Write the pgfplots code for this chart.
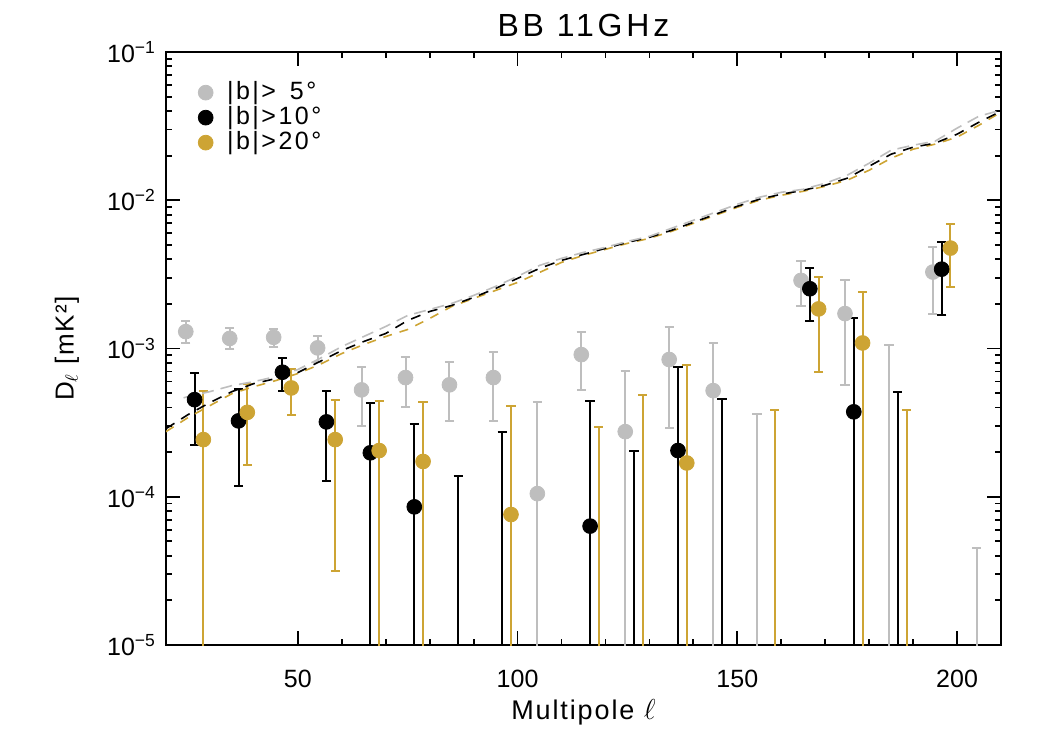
\documentclass[border=0pt]{standalone}
\usepackage{fontspec}
\setmainfont{Liberation Sans}
\usepackage{pgfplots}
\pgfplotsset{compat=1.18}
\definecolor{grey}{RGB}{190,190,190}
\definecolor{gold}{RGB}{205,164,52}
\begin{document}
\begin{tikzpicture}
\useasboundingbox (0,0) rectangle (525pt,375pt);
\begin{axis}[
  at={(83pt,52.5pt)}, anchor=south west,
  scale only axis, width=417.5pt, height=296.5pt,
  xmin=20, xmax=210, ymin=1e-5, ymax=1e-1, ymode=log,
  xtick={50,100,150,200}, minor x tick num=4,
  ytick={1e-5,1e-4,1e-3,1e-2,1e-1},
  yticklabels={10\textsuperscript{−5},10\textsuperscript{−4},10\textsuperscript{−3},10\textsuperscript{−2},10\textsuperscript{−1}},
  /pgf/number format/assume math mode=true,
  tick align=inside, major tick length=6.8pt, minor tick length=3.2pt,
  axis line style={line width=1pt},
  every tick/.style={black, line width=0.9pt},
  ticklabel style={font=\fontsize{12.5}{14}\selectfont},
  xticklabel style={yshift=-9pt},
  yticklabel style={xshift=-1.5pt},
  title={BB 11GHz},
  every axis title/.style={at={(0.5,1)}, anchor=base, yshift=8pt, font=\fontsize{16}{18}\selectfont\addfontfeature{LetterSpace=12}},
  xlabel={Multipole $\ell$},
  every axis x label/.style={at={(0.5,0)}, anchor=center, yshift=-33.5pt, font=\fontsize{13.5}{15}\selectfont\addfontfeature{LetterSpace=7}},
  ylabel={D$_\ell$ [mK²]},
  every axis y label/.style={at={(0,0.5)}, xshift=-49.5pt, rotate=90, anchor=center, font=\fontsize{13}{15}\selectfont\addfontfeature{LetterSpace=6}},
  legend style={at={(0.031,0.96)}, anchor=north west, draw=none, fill=none,
    column sep=5pt,
    nodes={text height=9pt, text depth=2.5pt, inner ysep=0.5pt},
    font=\fontsize{12.5}{14}\selectfont\addfontfeature{LetterSpace=10}},
  legend cell align=left,
]
\addlegendimage{only marks, mark=*, mark size=3.7pt, grey}
\addlegendentry{\textbar b\textbar>\phantom{1}5°}
\addlegendimage{only marks, mark=*, mark size=3.7pt, black}
\addlegendentry{\textbar b\textbar>10°}
\addlegendimage{only marks, mark=*, mark size=3.7pt, gold}
\addlegendentry{\textbar b\textbar>20°}

% |b|>5 deg
\addplot[grey, only marks, mark=*, mark size=3.7pt,
  error bars/.cd, y dir=both, y explicit,
  error bar style={grey, line width=1pt},
  error mark options={rotate=90, grey, line width=1pt, mark size=2.3pt}]
coordinates {
(24.5,1.30e-3) += (0,2.3e-4) -= (0,2.1e-4)
(34.5,1.17e-3) += (0,2.0e-4) -= (0,1.75e-4)
(44.5,1.19e-3) += (0,1.7e-4) -= (0,1.7e-4)
(54.5,1.01e-3) += (0,2.0e-4) -= (0,1.93e-4)
(64.5,5.26e-4) += (0,2.30e-4) -= (0,2.27e-4)
(74.5,6.37e-4) += (0,2.33e-4) -= (0,2.31e-4)
(84.5,5.69e-4) += (0,2.38e-4) -= (0,2.46e-4)
(94.5,6.37e-4) += (0,3.07e-4) -= (0,3.12e-4)
(104.5,1.05e-4) += (0,3.29e-4) -= (0,1.049e-4)
(114.5,9.1e-4) += (0,3.8e-4) -= (0,3.87e-4)
(124.5,2.75e-4) += (0,4.35e-4) -= (0,2.749e-4)
(134.5,8.43e-4) += (0,5.47e-4) -= (0,5.54e-4)
(144.5,5.2e-4) += (0,5.7e-4) -= (0,5.199e-4)
(164.5,2.88e-3) += (0,9.9e-4) -= (0,9.5e-4)
(174.5,1.72e-3) += (0,1.16e-3) -= (0,1.149e-3)
(194.5,3.28e-3) += (0,1.59e-3) -= (0,1.57e-3)
};
\addplot[grey, only marks, mark=none,
  error bars/.cd, y dir=plus, y explicit,
  error bar style={grey, line width=1pt},
  error mark options={rotate=90, grey, line width=1pt, mark size=2.3pt}]
coordinates {
(154.5,1e-7) += (0,3.62e-4)
(184.5,1e-7) += (0,1.06e-3)
(204.5,1e-7) += (0,4.47e-5)
};

% |b|>10 deg
\addplot[black, only marks, mark=*, mark size=3.7pt,
  error bars/.cd, y dir=both, y explicit,
  error bar style={black, line width=1pt},
  error mark options={rotate=90, black, line width=1pt, mark size=2.3pt}]
coordinates {
(26.5,4.52e-4) += (0,2.28e-4) -= (0,2.27e-4)
(36.5,3.25e-4) += (0,2.06e-4) -= (0,2.06e-4)
(46.5,6.92e-4) += (0,1.68e-4) -= (0,1.74e-4)
(56.5,3.2e-4) += (0,1.94e-4) -= (0,1.92e-4)
(66.5,1.98e-4) += (0,2.32e-4) -= (0,1.979e-4)
(76.5,8.55e-5) += (0,2.25e-4) -= (0,8.54e-5)
(116.5,6.34e-5) += (0,3.82e-4) -= (0,6.33e-5)
(136.5,2.05e-4) += (0,5.47e-4) -= (0,2.049e-4)
(166.5,2.53e-3) += (0,9.8e-4) -= (0,1.0e-3)
(176.5,3.74e-4) += (0,1.23e-3) -= (0,3.739e-4)
(196.5,3.43e-3) += (0,1.77e-3) -= (0,1.75e-3)
};
\addplot[black, only marks, mark=none,
  error bars/.cd, y dir=plus, y explicit,
  error bar style={black, line width=1pt},
  error mark options={rotate=90, black, line width=1pt, mark size=2.3pt}]
coordinates {
(86.5,1e-7) += (0,1.37e-4)
(96.5,1e-7) += (0,2.75e-4)
(126.5,1e-7) += (0,2.05e-4)
(146.5,1e-7) += (0,4.59e-4)
(186.5,1e-7) += (0,5.07e-4)
};

% |b|>20 deg
\addplot[gold, only marks, mark=*, mark size=3.7pt,
  error bars/.cd, y dir=both, y explicit,
  error bar style={gold, line width=1pt},
  error mark options={rotate=90, gold, line width=1pt, mark size=2.3pt}]
coordinates {
(28.5,2.43e-4) += (0,2.77e-4) -= (0,2.429e-4)
(38.5,3.71e-4) += (0,2.06e-4) -= (0,2.06e-4)
(48.5,5.42e-4) += (0,1.80e-4) -= (0,1.84e-4)
(58.5,2.43e-4) += (0,2.09e-4) -= (0,2.114e-4)
(68.5,2.05e-4) += (0,2.38e-4) -= (0,2.049e-4)
(78.5,1.73e-4) += (0,2.65e-4) -= (0,1.729e-4)
(98.5,7.59e-5) += (0,3.31e-4) -= (0,7.58e-5)
(138.5,1.69e-4) += (0,6.02e-4) -= (0,1.689e-4)
(168.5,1.85e-3) += (0,1.17e-3) -= (0,1.158e-3)
(178.5,1.09e-3) += (0,1.31e-3) -= (0,1.0899e-3)
(198.5,4.76e-3) += (0,2.2e-3) -= (0,2.16e-3)
};
\addplot[gold, only marks, mark=none,
  error bars/.cd, y dir=plus, y explicit,
  error bar style={gold, line width=1pt},
  error mark options={rotate=90, gold, line width=1pt, mark size=2.3pt}]
coordinates {
(118.5,1e-7) += (0,2.94e-4)
(128.5,1e-7) += (0,4.89e-4)
(158.5,1e-7) += (0,3.85e-4)
(188.5,1e-7) += (0,3.83e-4)
};

% dashed curves
\addplot[gold, line width=0.8pt, dash pattern=on 4.5pt off 4pt] coordinates {
(20,2.75e-4) (25,3.42e-4) (30,4.12e-4) (35,4.96e-4) (40,5.53e-4) (45,6.08e-4) (50,6.78e-4) (55,7.80e-4) (60,9.25e-4) (65,1.064e-3) (70,1.205e-3) (75,1.344e-3) (80,1.595e-3) (85,1.922e-3) (90,2.176e-3) (95,2.465e-3) (100,2.79e-3) (105,3.26e-3) (110,3.81e-3) (115,4.25e-3) (120,4.666e-3) (125,5.12e-3) (130,5.535e-3) (135,6.17e-3) (140,6.99e-3) (145,7.92e-3) (150,8.97e-3) (155,1.0e-2) (160,1.081e-2) (165,1.150e-2) (170,1.243e-2) (175,1.365e-2) (180,1.595e-2) (185,1.922e-2) (190,2.211e-2) (195,2.39e-2) (200,2.666e-2) (205,3.21e-2) (210,3.93e-2)
};
\addplot[black, line width=0.8pt, dash pattern=on 5pt off 4pt] coordinates {
(20,2.88e-4) (25,3.58e-4) (30,4.32e-4) (35,5.12e-4) (40,5.80e-4) (45,6.27e-4) (50,6.88e-4) (55,8.17e-4) (60,9.69e-4) (65,1.115e-3) (70,1.263e-3) (75,1.546e-3) (80,1.778e-3) (85,1.952e-3) (90,2.211e-3) (95,2.543e-3) (100,2.972e-3) (105,3.472e-3) (110,3.932e-3) (115,4.316e-3) (120,4.739e-3) (125,5.202e-3) (130,5.623e-3) (135,6.27e-3) (140,7.10e-3) (145,8.04e-3) (150,9.11e-3) (155,1.016e-2) (160,1.098e-2) (165,1.168e-2) (170,1.263e-2) (175,1.408e-2) (180,1.697e-2) (185,2.046e-2) (190,2.281e-2) (195,2.427e-2) (200,2.79e-2) (205,3.365e-2) (210,3.99e-2)
};
\addplot[grey, line width=0.8pt, dash pattern=on 6pt off 3.5pt] coordinates {
(24,4.65e-4) (25,4.74e-4) (30,5.12e-4) (35,5.62e-4) (40,5.98e-4) (45,6.47e-4) (50,7.21e-4) (55,8.56e-4) (60,1.031e-3) (65,1.205e-3) (70,1.408e-3) (75,1.671e-3) (80,1.834e-3) (85,2.014e-3) (90,2.281e-3) (95,2.624e-3) (100,3.066e-3) (105,3.637e-3) (110,4.055e-3) (115,4.452e-3) (120,4.813e-3) (125,5.284e-3) (130,5.711e-3) (135,6.467e-3) (140,7.327e-3) (145,8.298e-3) (150,9.397e-3) (155,1.048e-2) (160,1.132e-2) (165,1.186e-2) (170,1.303e-2) (175,1.476e-2) (180,1.778e-2) (185,2.177e-2) (190,2.352e-2) (195,2.503e-2) (200,3.066e-2) (205,3.694e-2) (210,4.055e-2)
};
\end{axis}
\end{tikzpicture}
\end{document}
